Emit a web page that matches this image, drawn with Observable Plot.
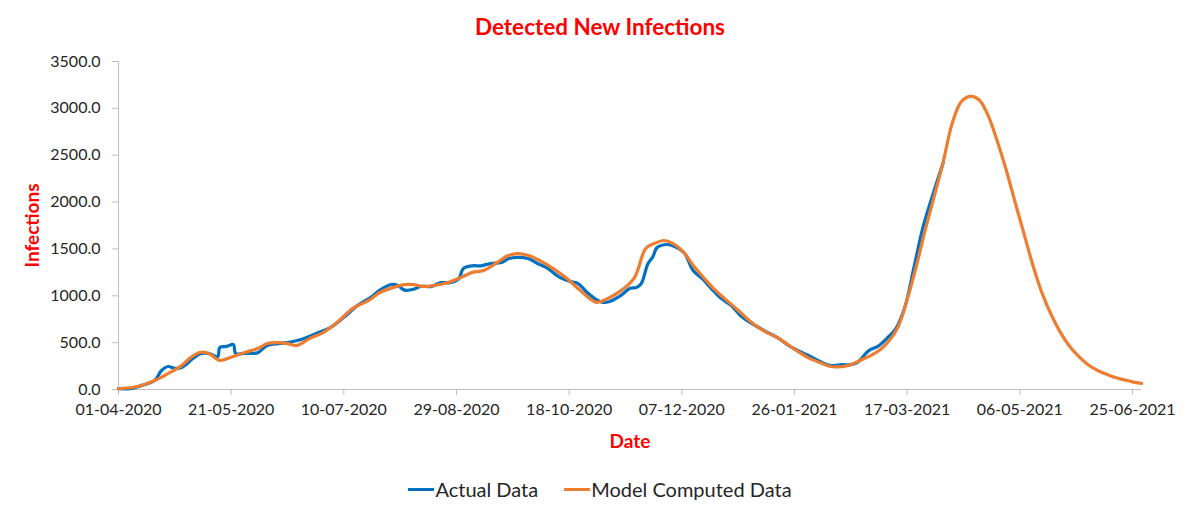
<!DOCTYPE html>
<html>
<head>
<meta charset="utf-8">
<script src="https://cdn.jsdelivr.net/npm/d3@7"></script>
<script src="https://cdn.jsdelivr.net/npm/@observablehq/plot@0.6"></script>
<style>
  html, body { margin: 0; padding: 0; background: #fff; }
  body { width: 1200px; font-family: Lato, "Open Sans", sans-serif; }
  #title { height: 50px; box-sizing: border-box; padding-top: 14px; text-align: center;
           font-size: 22.5px; line-height: 26px; font-weight: bold; color: #ff0000; }
  #chart svg { display: block; }
  #legend { height: 56px; box-sizing: border-box; padding-top: 16px; text-align: center;
            font-size: 20px; line-height: 26px; color: #262626; }
  .item { display: inline-flex; align-items: center; margin: 0 13px; vertical-align: top; }
  .sw { display: inline-block; width: 26px; height: 3px; margin-right: 1px; }
</style>
</head>
<body>
<div id="title">Detected New Infections</div>
<div id="chart"></div>
<div id="legend"></div>
<script>
const seriesNames = ["Actual Data", "Model Computed Data"];
const seriesColors = ["#0070c0", "#ed7d31"];
const xTickLabels = ["01-04-2020", "21-05-2020", "10-07-2020", "29-08-2020", "18-10-2020",
                     "07-12-2020", "26-01-2021", "17-03-2021", "06-05-2021", "25-06-2021"];
const yTicks = [0, 500, 1000, 1500, 2000, 2500, 3000, 3500];
const xDomain = ["2020-04-01", "2021-06-29"];

const actualDates = ["2020-04-01","2020-04-06","2020-04-11","2020-04-17","2020-04-20","2020-04-23","2020-04-26","2020-04-29",
  "2020-05-04","2020-05-07","2020-05-11","2020-05-15","2020-05-16","2020-05-19","2020-05-22","2020-05-23","2020-05-27","2020-05-31",
  "2020-06-02","2020-06-06","2020-06-11","2020-06-15","2020-06-19","2020-06-23","2020-06-28",
  "2020-07-04","2020-07-10","2020-07-16","2020-07-22","2020-07-26","2020-07-31",
  "2020-08-03","2020-08-06","2020-08-10","2020-08-13","2020-08-18","2020-08-22","2020-08-26","2020-08-30",
  "2020-09-01","2020-09-05","2020-09-09","2020-09-13","2020-09-18","2020-09-21","2020-09-25","2020-09-30",
  "2020-10-04","2020-10-08","2020-10-14","2020-10-19","2020-10-22","2020-10-26","2020-10-30",
  "2020-11-02","2020-11-05","2020-11-10","2020-11-14","2020-11-17","2020-11-19","2020-11-22","2020-11-24","2020-11-26","2020-11-29",
  "2020-12-03","2020-12-08","2020-12-12","2020-12-16","2020-12-20","2020-12-24","2020-12-29",
  "2021-01-02","2021-01-07","2021-01-11","2021-01-14","2021-01-19","2021-01-24",
  "2021-02-01","2021-02-07","2021-02-11","2021-02-16","2021-02-20","2021-02-23","2021-02-28",
  "2021-03-04","2021-03-08","2021-03-12","2021-03-16","2021-03-20","2021-03-24","2021-03-29","2021-04-02"];
const actualValues = [10, 8, 40, 95, 200, 245, 225, 235,
  330, 380, 385, 350, 450, 460, 480, 385, 385, 385,
  395, 470, 490, 500, 520, 550, 600,
  660, 770, 895, 985, 1060, 1120,
  1110, 1060, 1070, 1100, 1100, 1140, 1140, 1180,
  1290, 1320, 1320, 1345, 1355, 1395, 1410, 1395,
  1345, 1300, 1195, 1150, 1130, 1035, 960,
  930, 940, 1005, 1080, 1090, 1130, 1345, 1410, 1515, 1545,
  1535, 1460, 1270, 1185, 1080, 980, 895,
  790, 705, 650, 610, 545, 460,
  365, 290, 255, 265, 265, 290, 415,
  460, 545, 650, 880, 1300, 1730, 2125, 2420];

const modelDates = ["2020-04-01","2020-04-09","2020-04-17","2020-04-23","2020-04-29",
  "2020-05-03","2020-05-07","2020-05-11","2020-05-16","2020-05-21","2020-05-27",
  "2020-06-02","2020-06-06","2020-06-11","2020-06-15","2020-06-19","2020-06-25",
  "2020-07-01","2020-07-07","2020-07-14","2020-07-21","2020-07-26",
  "2020-08-01","2020-08-06","2020-08-10","2020-08-14","2020-08-19","2020-08-25","2020-08-31",
  "2020-09-05","2020-09-10","2020-09-16","2020-09-21","2020-09-25","2020-09-30",
  "2020-10-05","2020-10-11","2020-10-17","2020-10-23","2020-10-30",
  "2020-11-04","2020-11-10","2020-11-16","2020-11-21","2020-11-25","2020-11-29",
  "2020-12-03","2020-12-08","2020-12-12","2020-12-17","2020-12-21","2020-12-26",
  "2021-01-01","2021-01-07","2021-01-12","2021-01-19","2021-01-26",
  "2021-02-01","2021-02-07","2021-02-11","2021-02-16","2021-02-20","2021-02-24",
  "2021-03-01","2021-03-05","2021-03-09","2021-03-13","2021-03-17","2021-03-21","2021-03-25","2021-03-29",
  "2021-04-02","2021-04-06","2021-04-10","2021-04-14","2021-04-18","2021-04-22","2021-04-26","2021-04-30",
  "2021-05-04","2021-05-08","2021-05-12","2021-05-16","2021-05-20","2021-05-24","2021-05-28",
  "2021-06-01","2021-06-05","2021-06-09","2021-06-13","2021-06-17","2021-06-21","2021-06-25","2021-06-29"];
const modelValues = [10, 30, 95, 170, 255,
  340, 395, 385, 310, 345, 395,
  440, 490, 500, 490, 470, 545,
  610, 715, 865, 950, 1035,
  1090, 1120, 1120, 1100, 1110, 1140, 1195,
  1250, 1270, 1355, 1430, 1450, 1430,
  1375, 1290, 1185, 1055, 930,
  970, 1055, 1195, 1505, 1560, 1590,
  1560, 1460, 1325, 1185, 1080, 970,
  845, 715, 630, 545, 430,
  340, 280, 245, 245, 265, 310,
  365, 425, 520, 670, 960, 1310, 1700, 2060,
  2430, 2840, 3070, 3128, 3090, 2920, 2650, 2340,
  1990, 1650, 1310, 1020, 795, 610, 465,
  355, 270, 210, 168, 130, 105, 82, 65];

const parseISO = d3.utcParse("%Y-%m-%d");
const parseTick = d3.utcParse("%d-%m-%Y");
const actual = actualDates.map((d, i) => ({date: parseISO(d), value: actualValues[i]}));
const model = modelDates.map((d, i) => ({date: parseISO(d), value: modelValues[i]}));
const tickDates = xTickLabels.map(parseTick);
const domain = xDomain.map(parseISO);

const chart = Plot.plot({
  width: 1200,
  height: 410,
  marginLeft: 118,
  marginRight: 59,
  marginTop: 11,
  marginBottom: 71,
  style: {fontFamily: "Lato, 'Open Sans', sans-serif", fontSize: "16px", color: "#262626", background: "#fff"},
  x: {type: "utc", domain},
  y: {domain: [0, 3500]},
  marks: [
    Plot.ruleX([domain[0]], {stroke: "#bfbfbf"}),
    Plot.ruleY([0], {stroke: "#bfbfbf"}),
    Plot.axisY({ticks: yTicks, tickFormat: d3.format(".1f"), tickSize: 6, tickPadding: 12,
                stroke: "#bfbfbf", fill: "#262626", label: null}),
    Plot.axisX({ticks: tickDates, tickFormat: d3.utcFormat("%d-%m-%Y"), tickSize: 6, tickPadding: 8,
                stroke: "#bfbfbf", fill: "#262626", label: null}),
    Plot.line(actual, {x: "date", y: "value", stroke: seriesColors[0], strokeWidth: 3.2, curve: "catmull-rom"}),
    Plot.line(model, {x: "date", y: "value", stroke: seriesColors[1], strokeWidth: 3.2, curve: "catmull-rom"}),
    Plot.text(["Infections"], {frameAnchor: "left", rotate: -90, dx: -86, textAnchor: "middle",
                               fill: "#ff0000", fontWeight: "bold", fontSize: 19}),
    Plot.text(["Date"], {frameAnchor: "bottom", dy: 58, fill: "#ff0000", fontWeight: "bold", fontSize: 19})
  ]
});
document.getElementById("chart").appendChild(chart);

const legend = document.getElementById("legend");
seriesNames.forEach((name, i) => {
  const item = document.createElement("span");
  item.className = "item";
  const sw = document.createElement("span");
  sw.className = "sw";
  sw.style.background = seriesColors[i];
  item.appendChild(sw);
  item.appendChild(document.createTextNode(name));
  legend.appendChild(item);
});
</script>
</body>
</html>
